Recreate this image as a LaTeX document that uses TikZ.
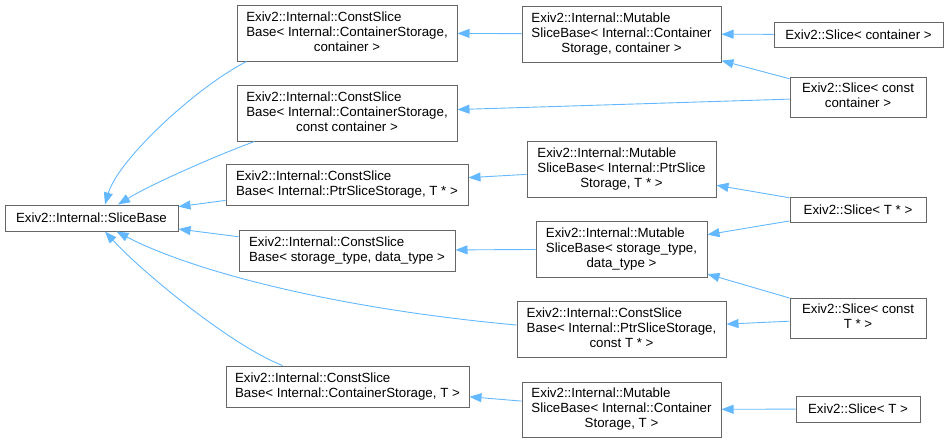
\documentclass[tikz,border=0pt]{standalone}
\usepackage{fontspec}
\setmainfont{Liberation Sans}
\usepackage{tikz}
\usetikzlibrary{arrows.meta,calc}
\definecolor{dgEdge}{HTML}{63B8FF}
\definecolor{dgBorder}{HTML}{666666}
\newcommand{\lbll}[1]{\begin{tabular}{@{}l@{}}#1\end{tabular}}
\newcommand{\lblc}[2]{\begin{tabular}{@{}l@{}}#1\\\multicolumn{1}{@{}c@{}}{#2}\end{tabular}}

\begin{document}
\begin{tikzpicture}[x=1pt,y=-1pt,
    font=\fontsize{13.3}{15}\selectfont,
    cls/.style={draw=dgBorder,line width=1pt,fill=white,inner sep=0pt,
                minimum height=#1,align=center},
    cls/.default=26pt,
    inh/.style={draw=dgEdge,line width=0.9pt,
                -{Triangle[length=12pt,width=9pt]}}]
  \useasboundingbox (0,0) rectangle (948,442);

  % base class
  \node[cls,minimum width=173pt] (base) at (91.5,218) {Exiv2::Internal::SliceBase};

  % const slice bases
  \node[cls=56pt,minimum width=220pt] (constCont) at (347,33)
    {\lblc{Exiv2::Internal::ConstSlice\\Base< Internal::ContainerStorage,}{container >}};
  \node[cls=56pt,minimum width=220pt] (constCCont) at (347,113)
    {\lblc{Exiv2::Internal::ConstSlice\\Base< Internal::ContainerStorage,}{const container >}};
  \node[cls=41pt,minimum width=242pt] (constPtr) at (347,184.5)
    {\lbll{Exiv2::Internal::ConstSlice\\Base< Internal::PtrSliceStorage, T * >}};
  \node[cls=41pt,minimum width=216pt] (constData) at (347,250.5)
    {\lbll{Exiv2::Internal::ConstSlice\\Base< storage\_type, data\_type >}};
  \node[cls=41pt,minimum width=243pt] (constT) at (347.5,386.5)
    {\lbll{Exiv2::Internal::ConstSlice\\Base< Internal::ContainerStorage, T >}};
  \node[cls=56pt,minimum width=209pt] (constCPtr) at (621.5,329)
    {\lblc{Exiv2::Internal::ConstSlice\\Base< Internal::PtrSliceStorage,}{const T * >}};

  % mutable slice bases
  \node[cls=56pt,minimum width=199pt] (mutCont) at (621.5,34)
    {\lblc{Exiv2::Internal::Mutable\\SliceBase< Internal::Container}{Storage, container >}};
  \node[cls=56pt,minimum width=189pt] (mutPtr) at (621.5,169)
    {\lblc{Exiv2::Internal::Mutable\\SliceBase< Internal::PtrSlice}{Storage, T * >}};
  \node[cls=56pt,minimum width=171pt] (mutData) at (621.5,249)
    {\lblc{Exiv2::Internal::Mutable\\SliceBase< storage\_type,}{data\_type >}};
  \node[cls=55pt,minimum width=199pt] (mutT) at (621.5,409.5)
    {\lblc{Exiv2::Internal::Mutable\\SliceBase< Internal::Container}{Storage, T >}};

  % slices
  \node[cls=25pt,minimum width=169pt] (sliceCont) at (858.5,34.5) {Exiv2::Slice< container >};
  \node[cls=40pt,minimum width=136pt] (sliceCCont) at (858,97)
    {\lblc{Exiv2::Slice< const}{container >}};
  \node[cls=25pt,minimum width=136pt] (slicePtr) at (858,209.5) {Exiv2::Slice< T * >};
  \node[cls=40pt,minimum width=136pt] (sliceCPtr) at (858,318)
    {\lblc{Exiv2::Slice< const}{T * >}};
  \node[cls,minimum width=124pt] (sliceT) at (858,409) {Exiv2::Slice< T >};

  % inheritance
  \draw[inh] ($(constCont.south west)+(10,0)$) .. controls (195,88) and (118,160) .. ($(base.north)+(13.5,0)$);
  \draw[inh] ($(constCCont.south west)+(18,0)$) .. controls (210,158) and (150,185) .. ($(base.north)+(26.5,0)$);
  \draw[inh] (constPtr) -- (base);
  \draw[inh] (constData) -- (base);
  \draw[inh] ($(constCPtr.west)+(0,-4)$) .. controls (330,308) and (190,270) .. ($(base.south)+(25,0)$);
  \draw[inh] ($(constT.north west)+(57,0)$) .. controls (230,345) and (140,270) .. ($(base.south)+(13.5,0)$);

  \draw[inh] (mutCont) -- (constCont);
  \draw[inh] (mutPtr) -- (constPtr);
  \draw[inh] (mutData) -- (constData);
  \draw[inh] (mutT) -- (constT);

  \draw[inh] (sliceCont) -- (mutCont);
  \draw[inh] (sliceCCont) -- (mutCont);
  \draw[inh] (sliceCCont) -- (constCCont);
  \draw[inh] (slicePtr) -- (mutPtr);
  \draw[inh] (slicePtr) -- (mutData);
  \draw[inh] (sliceCPtr) -- (mutData);
  \draw[inh] (sliceCPtr) -- (constCPtr);
  \draw[inh] (sliceT) -- (mutT);
\end{tikzpicture}
\end{document}
